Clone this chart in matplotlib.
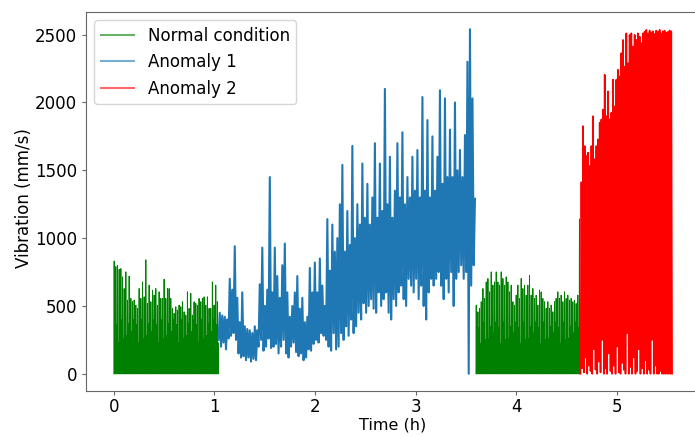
import numpy as np
import matplotlib.pyplot as plt

# time spans of each recording segment (h)
normal1_span = (0.0, 1.04)
anomaly1_span = (1.04, 3.59)
normal2_span = (3.60, 4.64)
anomaly2_span = (4.64, 5.55)

# normal condition, first block: spike tops (mm/s)
normal1_peaks = [831, 790, 799, 770, 775, 714, 628, 751, 543, 720, 555, 531, 543, 506,
                 482, 628, 555, 677, 567, 840, 519, 653, 531, 616, 580, 628, 506, 604,
                 555, 555, 697, 555, 628, 628, 555, 482, 445, 494, 470, 506, 494, 531,
                 457, 433, 604, 482, 592, 433, 531, 519, 506, 555, 531, 555, 567, 506,
                 567, 482, 482, 677, 506, 653, 531]
# level of the dense band between spikes
normal1_floor = [280, 360, 230, 310, 400, 260, 330, 200, 370, 290, 240, 340]

# normal condition, second block
normal2_peaks = [506, 457, 482, 531, 628, 555, 677, 702, 604, 751, 653, 677, 751, 677,
                 653, 751, 702, 653, 714, 677, 604, 653, 531, 506, 579, 653, 555, 702,
                 628, 653, 579, 653, 726, 579, 628, 555, 579, 506, 616, 604, 555, 531,
                 482, 531, 482, 506, 457, 531, 555, 604, 555, 579, 531, 604, 555, 579,
                 543, 555, 531, 543, 518, 579, 1141]
normal2_floor = [260, 340, 220, 300, 380, 250, 310, 200, 350, 270, 230, 320]

# anomaly 1: lower / upper value per 0.025 h window
anomaly1_low = [250, 200, 230, 180, 260, 280, 300, 250, 150, 120, 130, 100, 120, 90,
                110, 100, 200, 250, 170, 200, 260, 190, 200, 220, 150, 200, 250, 150,
                120, 200, 230, 160, 130, 150, 100, 120, 180, 170, 220, 250, 230, 300,
                280, 250, 200, 170, 300, 180, 200, 300, 250, 350, 280, 400, 300, 350,
                450, 400, 520, 450, 500, 550, 480, 450, 600, 500, 550, 600, 450, 400,
                550, 500, 600, 650, 550, 500, 700, 650, 600, 700, 550, 650, 500, 400,
                600, 700, 650, 700, 750, 650, 550, 700, 600, 750, 500, 700, 750, 800,
                700, 750, 0, 650, 800]
anomaly1_high = [450, 430, 420, 400, 700, 620, 940, 560, 380, 600, 350, 330, 320, 300,
                 350, 320, 660, 930, 500, 620, 1450, 600, 930, 720, 560, 800, 960, 600,
                 420, 500, 600, 720, 480, 560, 380, 420, 780, 600, 820, 600, 850, 650,
                 500, 1140, 760, 1100, 900, 1000, 1250, 1540, 900, 1200, 950, 1680, 1000,
                 1250, 1100, 1550, 1150, 1400, 1100, 1300, 1700, 1150, 1550, 1200, 2100,
                 1250, 1600, 1150, 1350, 1700, 1300, 1780, 1250, 1450, 1300, 1600, 1350,
                 1650, 1300, 2040, 1350, 1870, 1300, 1750, 1350, 1600, 2090, 1400, 2030,
                 1450, 1800, 1450, 2000, 1500, 1650, 1450, 1760, 2300, 2540, 2030, 1290]

# anomaly 2: spike tops and the troughs between them
anomaly2_peaks = [1412, 1826, 1679, 1606, 1630, 1532, 1679, 1899, 1581, 1679, 1728, 1850,
                  1875, 1948, 2204, 1899, 2082, 1875, 1924, 2168, 1972, 2168, 2241, 2192,
                  2364, 2461, 2265, 2510, 2290, 2498, 2510, 2412, 2498, 2461, 2510, 2485,
                  2437, 2510, 2522, 2535, 2510, 2530, 2515, 2525, 2505, 2530, 2520, 2535,
                  2510, 2525, 2530, 2515, 2520, 2530, 2525]
anomaly2_troughs = [0, 40, 10, 120, 0, 60, 20, 0, 180, 30, 0, 90, 10, 250, 0, 40, 0, 150,
                    20, 0, 60, 0, 200, 10, 0, 80, 30, 0, 300, 0, 50, 0, 120, 0, 20, 180,
                    0, 40, 0, 100, 0, 30, 0, 250, 0, 60, 0, 0, 20, 0, 0, 0, 0, 0, 0]


def spiky(peaks, floor):
    vals = []
    for i, p in enumerate(peaks):
        vals += [0, p, 0, floor[i % len(floor)], 0, floor[(i + 5) % len(floor)]]
    return np.array(vals, dtype=float)


def interleave(a, b):
    return np.ravel(np.column_stack([a, b]))


n1 = spiky(normal1_peaks, normal1_floor)
n2 = spiky(normal2_peaks, normal2_floor)
a1 = interleave(anomaly1_low, anomaly1_high)
a2 = np.append(interleave(anomaly2_troughs, anomaly2_peaks), 0)

t_n1 = np.linspace(*normal1_span, len(n1))
t_n2 = np.linspace(*normal2_span, len(n2))
t_a1 = np.linspace(*anomaly1_span, len(a1))
t_a2 = np.linspace(*anomaly2_span, len(a2))

fig = plt.figure(figsize=(6.95, 4.36), dpi=100)
ax = fig.add_axes([86 / 695, 45 / 436, 614 / 695, 379 / 436])

ax.plot(t_n1, n1, color='green', lw=0.7, label='Normal condition')
ax.plot(t_a1, a1, color='#1f77b4', lw=1.5, label='Anomaly 1')
ax.plot(t_n2, n2, color='green', lw=0.7)
ax.plot(t_a2, a2, color='red', lw=1.2, label='Anomaly 2')

ax.set_xlim(-0.2775, 5.8275)
ax.set_ylim(-127, 2667)
ax.set_xticks([0, 1, 2, 3, 4, 5])
ax.set_yticks([0, 500, 1000, 1500, 2000, 2500])
ax.set_xlabel('Time (h)', fontsize=11.5)
ax.set_ylabel('Vibration (mm/s)', fontsize=12)
ax.xaxis.set_label_coords(0.5, -0.071)
ax.yaxis.set_label_coords(-0.086, 0.51)
ax.tick_params(labelsize=12, color='0.4', length=3)
ax.tick_params(axis='x', pad=2)
for s in ax.spines.values():
    s.set_color('0.4')

leg = ax.legend(loc='upper left', fontsize=12)
for h in leg.get_lines():
    h.set_alpha(0.6)
    h.set_linewidth(1.5)

fig.savefig('out.png', dpi=100)
